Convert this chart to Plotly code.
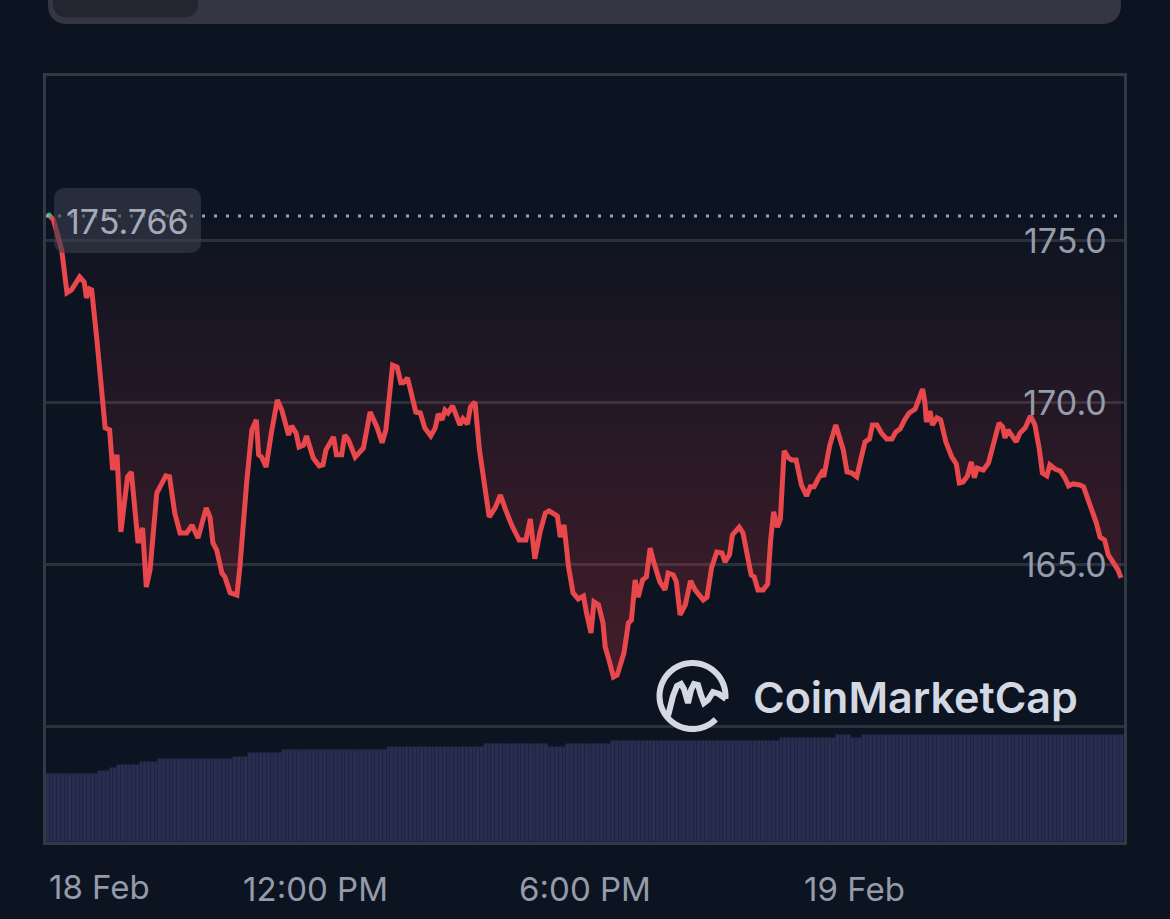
import numpy as np
import pandas as pd
import plotly.graph_objects as go

# ---------------- data ----------------
START = pd.Timestamp("2024-02-18 06:00")
END = pd.Timestamp("2024-02-19 06:00")
BASELINE = 175.766

# minutes after 18 Feb 06:00
price_minutes = [4, 10, 21, 28, 34, 45, 51, 54, 58, 61, 68, 79, 85, 89, 92, 95, 100, 109, 114, 123,
                 129, 134, 139, 148, 160, 165, 172, 179, 188, 195, 203, 214, 219, 223, 228, 235, 239, 246, 255, 259,
                 268, 275, 281, 284, 288, 294, 301, 309, 315, 324, 328, 334, 338, 344, 348, 353, 357, 365, 370, 374,
                 384, 388, 395, 399, 404, 413, 424, 433, 442, 449, 454, 463, 469, 474, 477, 483, 490, 494, 500, 503,
                 506, 514, 520, 524, 529, 533, 537, 543, 548, 553, 557, 563, 567, 573, 579, 583, 588, 592, 600, 607,
                 614, 622, 632, 641, 647, 653, 660, 667, 672, 678, 683, 687, 692, 698, 704, 711, 718, 722, 728, 732,
                 738, 744, 747, 752, 758, 763, 772, 778, 782, 787, 791, 797, 802, 807, 811, 820, 827, 831, 838, 842,
                 847, 854, 861, 867, 878, 883, 889, 896, 903, 907, 913, 917, 926, 931, 938, 942, 946, 951, 958, 964,
                 968, 972, 977, 981, 986, 992, 996, 1002, 1009, 1016, 1021, 1026, 1032, 1036, 1039, 1047, 1055, 1061, 1065, 1070,
                 1076, 1083, 1088, 1094, 1100, 1104, 1110, 1116, 1123, 1130, 1135, 1141, 1147, 1153, 1161, 1164, 1171, 1174, 1176, 1181,
                 1184, 1190, 1195, 1202, 1210, 1216, 1220, 1225, 1231, 1236, 1240, 1244, 1252, 1259, 1265, 1273, 1278, 1281, 1285, 1291,
                 1296, 1301, 1308, 1315, 1321, 1327, 1331, 1337, 1341, 1348, 1355, 1361, 1366, 1372, 1381, 1386, 1392, 1398, 1403, 1408,
                 1414, 1419, 1426, 1432, 1436]

price_values = [175.80, 175.65, 174.72, 173.40, 173.49, 173.89, 173.73, 173.24, 173.52, 173.49,
                171.94, 169.23, 169.17, 167.93, 168.33, 168.33, 166.02, 167.72, 167.87, 165.68,
                166.14, 164.32, 164.85, 167.22, 167.75, 167.72, 166.60, 165.99, 165.99, 166.23,
                165.83, 166.76, 166.48, 165.68, 165.46, 164.75, 164.63, 164.14, 164.07, 164.94,
                167.53, 169.17, 169.48, 168.40, 168.33, 168.02, 169.07, 170.09, 169.78, 169.01,
                169.29, 169.07, 168.64, 168.70, 168.98, 168.55, 168.30, 168.06, 168.09, 168.55,
                168.95, 168.40, 168.40, 169.01, 168.86, 168.33, 168.61, 169.72, 169.26, 168.77,
                169.17, 171.17, 171.11, 170.62, 170.62, 170.77, 170.09, 169.72, 169.69, 169.38,
                169.23, 168.98, 169.23, 169.66, 169.48, 169.78, 169.69, 169.91, 169.57, 169.32,
                169.51, 169.35, 169.88, 170.03, 168.55, 167.84, 167.22, 166.48, 166.76, 167.16,
                166.70, 166.23, 165.77, 165.77, 166.42, 165.19, 166.02, 166.60, 166.67, 166.57,
                166.51, 165.86, 166.23, 164.94, 164.14, 163.95, 164.04, 163.52, 162.90, 163.86,
                163.77, 163.21, 162.47, 162.07, 161.54, 161.60, 162.28, 163.21, 163.30, 164.54,
                164.01, 164.54, 164.63, 165.52, 165.15, 164.48, 164.23, 164.75, 164.69, 164.48,
                163.46, 163.77, 164.51, 164.23, 163.92, 164.01, 164.91, 165.40, 165.37, 165.09,
                165.31, 165.93, 166.17, 165.99, 165.15, 164.69, 164.63, 164.23, 164.23, 164.41,
                165.77, 166.64, 166.17, 166.42, 168.52, 168.30, 168.24, 168.24, 167.47, 167.13,
                167.41, 167.41, 167.69, 167.84, 167.72, 168.70, 169.32, 168.77, 168.55, 167.87,
                167.84, 167.72, 168.15, 168.80, 168.89, 169.32, 169.32, 169.07, 168.89, 168.89,
                169.10, 169.20, 169.48, 169.69, 169.81, 170.00, 170.43, 170.03, 169.41, 169.75,
                169.32, 169.54, 169.48, 168.80, 168.33, 168.12, 167.53, 167.56, 167.75, 168.18,
                167.69, 167.99, 167.93, 168.15, 168.64, 169.38, 169.26, 168.92, 169.17, 168.95,
                168.80, 169.07, 169.23, 169.60, 169.32, 168.55, 167.84, 167.75, 168.09, 167.96,
                167.90, 167.69, 167.44, 167.50, 167.47, 167.41, 167.01, 166.70, 166.30, 165.86,
                165.77, 165.31, 165.06, 164.85, 164.60]

assert len(price_minutes) == len(price_values), (len(price_minutes), len(price_values))

# 24h volume (USD bn), one bar per 5 minutes, read as flat steps
volume_levels = [3.40, 3.55, 3.70, 3.85, 4.00, 4.15, 4.25, 4.45, 4.60, 4.75, 4.90, 4.75, 4.90, 5.05, 5.20, 5.35, 5.20, 5.35]
volume_counts = [14, 3, 2, 6, 5, 20, 4, 9, 28, 26, 17, 5, 12, 45, 15, 4, 3, 70]
volume_values = [v for v, n in zip(volume_levels, volume_counts) for _ in range(n)]

x_tick_vals = ["2024-02-18 12:00", "2024-02-18 18:00", "2024-02-19 00:00"]
x_tick_text = ["12:00 PM", "6:00 PM", "19 Feb"]
y_tick_vals = [160, 165, 170, 175]
y_tick_text = ["", "165.0", "170.0", "175.0"]

# ---------------- build ----------------
price_times = START + pd.to_timedelta(price_minutes, unit="m")
bar_times = START + pd.to_timedelta([5 * i + 2.5 for i in range(len(volume_values))], unit="m")

BG = "#0d1421"
RED = "#e8474c"
GRID = "#2b303c"
FRAME = "#333845"
LABEL = "#959bab"
FONT = "Inter, Roboto, sans-serif"

W, H = 1170, 919
L, R, T, B = 46, 1124, 76, 842


def PX(x):
    return (x - L) / (R - L)


def PY(y):
    return (B - y) / (B - T)


def rrect(x0, y0, x1, y1, r, top=True, bottom=True):
    rt = r if top else 0
    rb = r if bottom else 0
    p = f"M {PX(x0 + rt)},{PY(y0)} L {PX(x1 - rt)},{PY(y0)} "
    p += f"Q {PX(x1)},{PY(y0)} {PX(x1)},{PY(y0 + rt)} " if rt else ""
    p += f"L {PX(x1)},{PY(y1 - rb)} "
    p += f"Q {PX(x1)},{PY(y1)} {PX(x1 - rb)},{PY(y1)} " if rb else ""
    p += f"L {PX(x0 + rb)},{PY(y1)} "
    p += f"Q {PX(x0)},{PY(y1)} {PX(x0)},{PY(y1 - rb)} " if rb else ""
    p += f"L {PX(x0)},{PY(y0 + rt)} "
    p += f"Q {PX(x0)},{PY(y0)} {PX(x0 + rt)},{PY(y0)} " if rt else ""
    return p + "Z"


fig = go.Figure()

fig.add_trace(go.Bar(
    x=bar_times, y=volume_values, width=300000, yaxis="y2",
    marker=dict(color="#292f50", line=dict(color="#1f2440", width=0.7)),
    hoverinfo="skip",
))

fig.add_trace(go.Scatter(
    x=[price_times[0], price_times[-1]], y=[BASELINE, BASELINE],
    mode="lines", line=dict(width=0), hoverinfo="skip",
))
fig.add_trace(go.Scatter(
    x=price_times, y=price_values, mode="lines",
    line=dict(color=RED, width=5),
    fill="tonexty",
    fillgradient=dict(type="vertical",
                      colorscale=[[0, "rgba(234,57,67,0.25)"], [1, "rgba(234,57,67,0.0)"]],
                      start=161.5, stop=BASELINE),
))
fig.add_trace(go.Scatter(
    x=[price_times[0]], y=[price_values[0]], mode="markers",
    marker=dict(color="#16c784", size=5), hoverinfo="skip",
))

shapes = []
# top tab selector
shapes.append(dict(type="path", xref="paper", yref="paper", path=rrect(48, -20, 1121, 24, 20, top=False),
                   fillcolor="#343644", line=dict(width=0), layer="above"))
shapes.append(dict(type="path", xref="paper", yref="paper", path=rrect(53, -20, 198, 17.5, 15, top=False),
                   fillcolor="#242530", line=dict(width=0), layer="above"))
# baseline dotted line
shapes.append(dict(type="line", xref="paper", yref="y", x0=0, x1=1, y0=BASELINE, y1=BASELINE,
                   line=dict(color="#9aa0ad", width=3, dash="3px,9px"), layer="above"))
# current value box
shapes.append(dict(type="path", xref="paper", yref="paper", path=rrect(54, 188, 201, 253, 12),
                   fillcolor="rgba(58,62,76,0.6)", line=dict(width=0), layer="above"))

# CoinMarketCap logo
cx, cy, r = 692.5, 696, 33
ang = np.deg2rad(np.linspace(-5, 315, 80))
pts = [(cx + r * np.cos(a), cy - r * np.sin(a)) for a in ang]
path = "M " + " L ".join(f"{PX(x)},{PY(y)}" for x, y in pts)
shapes.append(dict(type="path", xref="paper", yref="paper", path=path,
                   line=dict(color="#d3d8e3", width=6), layer="above"))
m_pts = [(668, 716), (673, 696), (677, 686), (681, 684), (684, 689), (688, 703), (691, 690), (694, 684),
         (698, 685), (701, 695), (704, 703), (708, 700), (713, 692), (719, 694), (726, 699)]
path = "M " + " L ".join(f"{PX(x)},{PY(y)}" for x, y in m_pts)
shapes.append(dict(type="path", xref="paper", yref="paper", path=path,
                   line=dict(color="#d3d8e3", width=6), layer="above"))

annotations = [
    dict(text="175.766", xref="paper", yref="paper", x=PX(127.5), y=PY(221), xanchor="center", yanchor="middle",
         showarrow=False, font=dict(family=FONT, size=34, color="#a4aab8")),
    dict(text="CoinMarketCap", xref="paper", yref="paper", x=PX(751), y=PY(697), xanchor="left", yanchor="middle",
         showarrow=False, font=dict(family=FONT, size=43, color="#d3d8e3", weight=600)),
    dict(text="18 Feb", xref="paper", yref="paper", x=PX(47), y=PY(887), xanchor="left", yanchor="middle",
         showarrow=False, font=dict(family=FONT, size=33, color=LABEL)),
]

fig.update_layout(
    width=W, height=H,
    margin=dict(l=L, r=W - R, t=T, b=H - B, pad=0, autoexpand=False),
    paper_bgcolor=BG, plot_bgcolor=BG,
    showlegend=False, bargap=0,
    shapes=shapes, annotations=annotations,
    xaxis=dict(type="date", range=[START, END], showgrid=False, zeroline=False, automargin=False,
               showline=True, mirror=True, linecolor=FRAME, linewidth=3,
               tickmode="array", tickvals=x_tick_vals, ticktext=x_tick_text, ticks="",
               ticklabelstandoff=16,
               tickfont=dict(family=FONT, size=33, color=LABEL)),
    yaxis=dict(range=[156.45, 180.09], side="right", zeroline=False, automargin=False,
               tickmode="array", tickvals=y_tick_vals, ticktext=y_tick_text,
               ticklabelposition="inside", ticks="", ticklabelstandoff=21,
               showgrid=True, gridcolor=GRID, gridwidth=2.5,
               showline=True, mirror=True, linecolor=FRAME, linewidth=3,
               tickfont=dict(family=FONT, size=34, color=LABEL)),
    yaxis2=dict(range=[0, 38.3], overlaying="y", visible=False),
)

fig.write_html("out.html")
